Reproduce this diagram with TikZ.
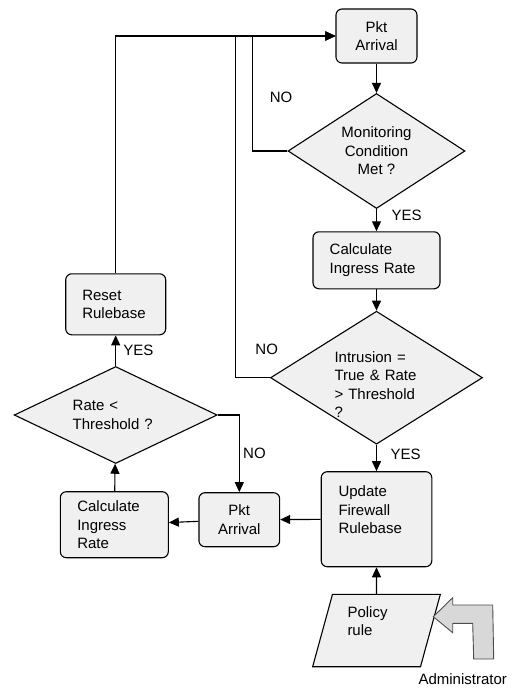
\documentclass[tikz,border=0pt]{standalone}
\usepackage{fontspec}
\setmainfont{Liberation Sans}
\usepackage{xcolor}
\usepackage{tikz}
\usetikzlibrary{shapes.geometric,arrows.meta,positioning,calc}

\definecolor{boxfill}{RGB}{240,240,240}
\definecolor{handfill}{RGB}{216,216,216}

\begin{document}
\begin{tikzpicture}[x=1pt, y=-1pt, line width=1.1pt,
  font=\fontsize{15}{18.5}\selectfont,
  proc/.style={draw, rectangle, rounded corners=6pt, fill=boxfill},
  decision/.style={draw, diamond, fill=boxfill, inner sep=0pt},
  flow/.style={-{Triangle[length=10pt,width=9pt]}}]
\useasboundingbox (0,0) rectangle (515,689);

% main column
\node[proc, minimum width=81pt, minimum height=54pt, align=center] (pkt1) at (376.5,36) {Pkt\\Arrival};
\node[decision, aspect=1.55, minimum width=177pt, minimum height=115pt, align=center, below of=pkt1, node distance=115pt] (mon) {Monitoring\\Condition\\Met ?};
\node[proc, minimum height=57pt, text width=93.6pt, inner xsep=16.7pt, align=left, below of=mon, node distance=109.3pt] (calc1) {Calculate\\Ingress Rate};
\node[decision, aspect=1.6, minimum width=212pt, minimum height=133pt, below of=calc1, node distance=117.4pt,
  label={[align=left, text width=84pt, yshift=-7pt]center:{Intrusion =\\True \& Rate\\> Threshold\\?}}] (intr) {};
\node[proc, minimum height=95pt, text width=76pt, inner xsep=17.3pt, align=left, below of=intr, node distance=141.5pt] (upd) {Update\\Firewall\\Rulebase\\\mbox{}};
\node[draw, trapezium, trapezium left angle=70, trapezium right angle=110, trapezium stretches body, fill=boxfill,
  minimum width=127.7pt, minimum height=72.4pt, text width=58pt, align=left, below of=upd, node distance=111.3pt] (policy) {Policy\\rule\\\mbox{}};

% left loop
\node[proc, minimum width=80.7pt, minimum height=54pt, align=center] (pkt2) at (239.3,519.7) {Pkt\\Arrival};
\node[proc, minimum height=66pt, text width=74pt, inner xsep=17pt, align=left] (calc2) at (114.3,524.7) {Calculate\\Ingress\\Rate};
\node[decision, aspect=2.1, minimum width=203pt, minimum height=97pt, text width=86pt, align=left] (rate) at (115.7,415) {Rate <\\Threshold ?};
\node[proc, minimum height=61pt, text width=66.8pt, inner xsep=16.6pt, align=left] (reset) at (115.7,304.3) {Reset\\Rulebase};

% administrator
\draw[fill=handfill, draw=black!70, line width=0.9pt] (433.3,616.7) -- (452.7,597.7) -- (452.7,605) -- (492.7,605)
  -- (493.7,659) -- (473.7,659) -- (472.7,623.3) -- (452.7,623.3) -- (452.7,632.7) -- cycle;
\node (admin) at (462.7,679.3) {Administrator};

% labels
\node (nomon) at (281,97.7) {NO};
\node (nointr) at (266.7,349) {NO};
\node (yesmon) at (406.7,215.7) {YES};
\node (yesintr) at (405.7,454.3) {YES};
\node (yesrate) at (138.3,350.7) {YES};

% connectors
\draw[flow] (pkt1) -- (mon);
\draw[flow] (mon) -- (calc1);
\draw[flow] (calc1) -- (intr);
\draw[flow] (intr) -- (upd);
\draw[flow] (policy) -- (upd);
\draw[flow] (upd) -- (pkt2);
\draw[flow] (pkt2) -- (calc2);
\draw[flow] (calc2) -- (rate);
\draw[flow] (rate) -- (reset);
\draw[flow] (rate.east) -| node[pos=0.75, right] (norate) {NO} (pkt2.north);
\draw[flow] (mon.west) -- ++(-35,0) |- (pkt1.west);
\draw[flow] (intr.west) -- ++(-34.7,0) |- (pkt1.west);
\draw[flow] (reset.north) |- (pkt1.west);
\end{tikzpicture}
\end{document}
